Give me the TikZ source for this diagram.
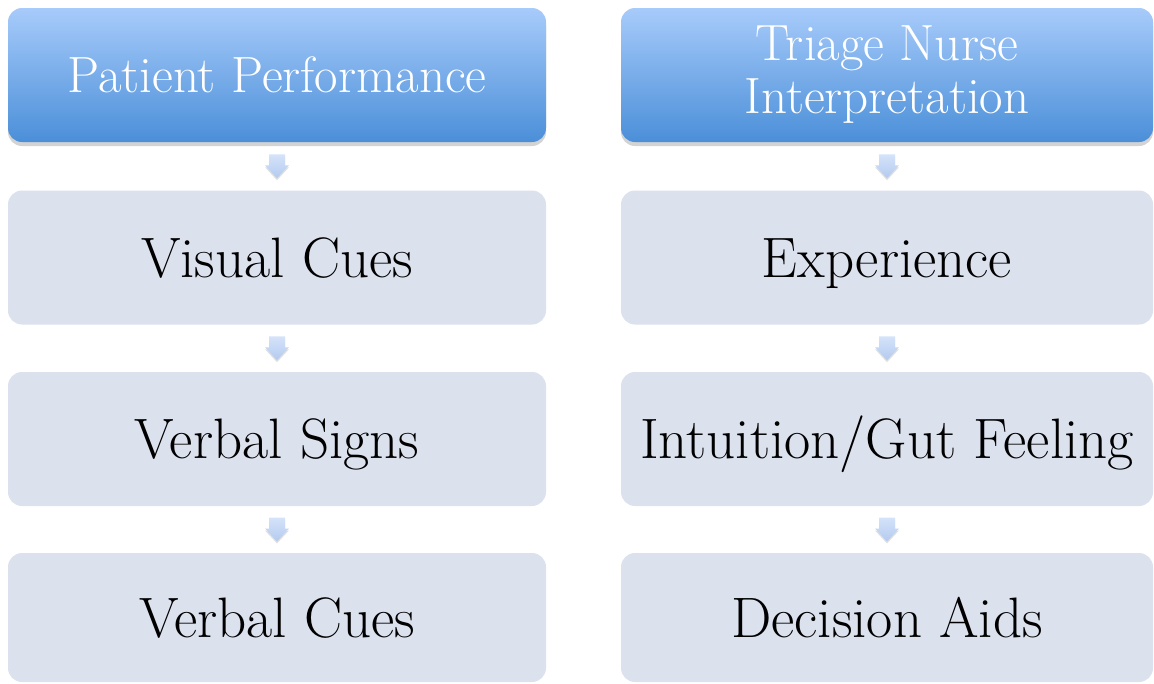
\documentclass[tikz,border=0pt]{standalone}
\usepackage{fontspec}
\usetikzlibrary{shadows,calc}
\definecolor{headtop}{HTML}{A7CBFA}
\definecolor{headbot}{HTML}{4B8FD9}
\definecolor{cuefill}{HTML}{DCE1EE}
\definecolor{arrtop}{HTML}{D5E3FA}
\definecolor{arrbot}{HTML}{B3CAEF}
\begin{document}
\begin{tikzpicture}[x=1pt,y=-1pt,
  headbox/.style={rounded corners=14pt, minimum height=134pt, inner sep=0pt,
    top color=headtop, bottom color=headbot, text=white, align=center,
    font=\fontsize{51}{53}\selectfont,
    drop shadow={shadow xshift=0pt, shadow yshift=-4pt, opacity=0.35}},
  cuebox/.style={rounded corners=14pt, minimum height=134pt, inner sep=0pt,
    text height=50pt, text depth=11pt,
    fill=cuefill, font=\fontsize{57}{60}\selectfont},
  downarr/.pic={\path[top color=arrtop, bottom color=arrbot,
      drop shadow={shadow xshift=0pt, shadow yshift=-2pt, opacity=0.25}]
      (-8,-12) -- (8,-12) -- (8,-1) -- (12,-1) -- (0,12) -- (-12,-1) -- (-8,-1) -- cycle;}]

\useasboundingbox (0,0) rectangle (1154,683);

\node[headbox, minimum width=538pt] (pp) at (277,75) {Patient Performance};
\node[cuebox, minimum width=538pt] (vc) at (277,257.5) {Visual Cues};
\node[cuebox, minimum width=538pt] (vs) at (277,439) {Verbal Signs};
\node[cuebox, minimum width=538pt, minimum height=129pt] (vcu) at (277,617.5) {Verbal Cues};

\node[headbox, minimum width=532pt] (tn) at (887,75) {Triage Nurse\\Interpretation};
\node[cuebox, minimum width=532pt] (ex) at (887,257.5) {Experience};
\node[cuebox, minimum width=532pt] (ig) at (887,439) {Intuition/Gut Feeling};
\node[cuebox, minimum width=532pt, minimum height=129pt] (da) at (887,617.5) {Decision Aids};

\foreach \a/\b in {pp/vc,vc/vs,vs/vcu,tn/ex,ex/ig,ig/da}
  \pic at ($(\a.south)!0.5!(\b.north)$) {downarr};

\end{tikzpicture}
\end{document}
